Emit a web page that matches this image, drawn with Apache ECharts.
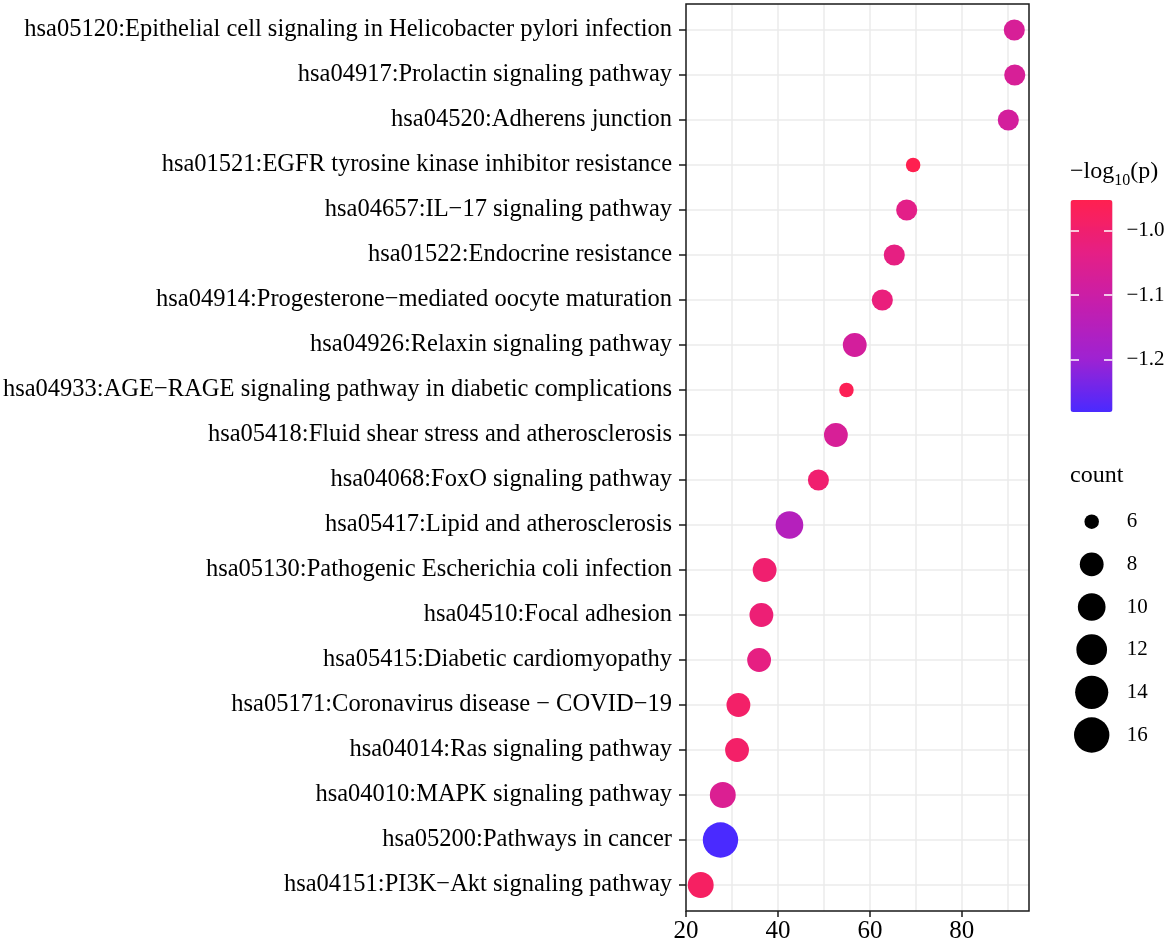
<!DOCTYPE html>
<html>
<head>
<meta charset="utf-8">
<script src="https://cdn.jsdelivr.net/npm/echarts@6/dist/echarts.min.js"></script>
<style>
html,body{margin:0;padding:0;background:#fff;}
#chart{width:1169px;height:945px;}
</style>
</head>
<body>
<div id="chart"></div>
<script>
const categories = [
  'hsa05120:Epithelial cell signaling in Helicobacter pylori infection',
  'hsa04917:Prolactin signaling pathway',
  'hsa04520:Adherens junction',
  'hsa01521:EGFR tyrosine kinase inhibitor resistance',
  'hsa04657:IL\u221217 signaling pathway',
  'hsa01522:Endocrine resistance',
  'hsa04914:Progesterone\u2212mediated oocyte maturation',
  'hsa04926:Relaxin signaling pathway',
  'hsa04933:AGE\u2212RAGE signaling pathway in diabetic complications',
  'hsa05418:Fluid shear stress and atherosclerosis',
  'hsa04068:FoxO signaling pathway',
  'hsa05417:Lipid and atherosclerosis',
  'hsa05130:Pathogenic Escherichia coli infection',
  'hsa04510:Focal adhesion',
  'hsa05415:Diabetic cardiomyopathy',
  'hsa05171:Coronavirus disease \u2212 COVID\u221219',
  'hsa04014:Ras signaling pathway',
  'hsa04010:MAPK signaling pathway',
  'hsa05200:Pathways in cancer',
  'hsa04151:PI3K\u2212Akt signaling pathway'
];
const xValues = [91.4, 91.5, 90.1, 69.4, 68.0, 65.3, 62.7, 56.7, 54.9, 52.6, 48.8, 42.5, 37.1, 36.4, 35.9, 31.4, 31.1, 28.0, 27.5, 23.2];
const logP = [-1.07, -1.07, -1.08, -0.952, -1.04, -1.03, -1.02, -1.08, -0.96, -1.07, -1.00, -1.15, -1.00, -1.01, -1.03, -0.99, -0.99, -1.06, -1.282, -0.98];
const counts = [7, 7, 7, 6, 7, 7, 7, 8, 6, 8, 7, 10, 8, 8, 8, 8, 8, 9, 16, 9];
const xTickValues = [20, 40, 60, 80];
const colorTickValues = [-1.2, -1.1, -1.0];
const sizeBreaks = [6, 8, 10, 12, 14, 16];

const FONT = "'Liberation Serif', 'DejaVu Serif', serif";
const X_MIN = 20, X_MAX = 94.6;
const P_MIN = -1.282, P_MAX = -0.952;

function diameter(c) { return 14.5 + 6.6 * Math.sqrt(Math.max(c - 6, 0)); }
function fmtNeg(v) { return (v < 0 ? '\u2212' : '') + Math.abs(v).toFixed(1); }

const mainData = categories.map((c, i) => [xValues[i], c, logP[i], counts[i]]);
const legendData = sizeBreaks.map(b => [0, String(b), b]);

const whiteTick = {show: true, length: 8.5, customValues: colorTickValues, lineStyle: {color: '#ffffff', width: 1.5}};

const chart = echarts.init(document.getElementById('chart'), null, {renderer: 'canvas'});
chart.setOption({
  backgroundColor: '#ffffff',
  animation: false,
  textStyle: {fontFamily: FONT},
  title: [
    {
      text: '{a|\u2212log}{b|10}{a|(p)}',
      left: 1070, top: 160, padding: 0,
      textStyle: {
        fontWeight: 'normal',
        rich: {
          a: {fontFamily: FONT, fontSize: 24, fontWeight: 'normal', color: '#000', verticalAlign: 'bottom', padding: [0, 0, 5, 0]},
          b: {fontFamily: FONT, fontSize: 16, fontWeight: 'normal', color: '#000', verticalAlign: 'bottom', padding: [0, 0, 0, 0]}
        }
      }
    },
    {
      text: 'count', left: 1070, top: 464, padding: 0,
      textStyle: {fontFamily: FONT, fontSize: 24, fontWeight: 'normal', color: '#000'}
    }
  ],
  grid: [
    {left: 686, right: 140, top: 4, bottom: 34, show: true, z: 5, backgroundColor: 'transparent', borderColor: '#1a1a1a', borderWidth: 1.5, containLabel: false, outerBoundsMode: 'none'},
    {left: 686, right: 140, top: 30, bottom: 60, show: false, containLabel: false, outerBoundsMode: 'none'},
    {left: 1070.5, top: 200, width: 42, height: 212, show: false, containLabel: false, outerBoundsMode: 'none'},
    {left: 1081.7, top: 521.7, width: 20, height: 213.3, show: false, containLabel: false, outerBoundsMode: 'none'}
  ],
  xAxis: [
    {
      type: 'value', gridIndex: 0, min: X_MIN, max: X_MAX, interval: 10,
      axisLine: {show: false}, axisTick: {show: false},
      splitLine: {show: true, showMinLine: false, showMaxLine: false, lineStyle: {color: '#ebebeb', width: 1.5}},
      axisLabel: {
        fontFamily: FONT, fontSize: 25, color: '#000', margin: 8,
        formatter: v => (xTickValues.indexOf(v) >= 0 ? String(v) : '')
      }
    },
    {
      type: 'value', gridIndex: 0, min: X_MIN, max: X_MAX, interval: 20, position: 'bottom',
      axisLine: {show: false},
      axisTick: {show: true, length: 6, customValues: xTickValues, lineStyle: {color: '#1a1a1a', width: 1.5}},
      axisLabel: {show: false}, splitLine: {show: false}
    },
    {type: 'value', gridIndex: 1, min: X_MIN, max: X_MAX, show: false},
    {type: 'value', gridIndex: 2, min: 0, max: 1, show: false},
    {type: 'value', gridIndex: 3, min: -1, max: 1, show: false}
  ],
  yAxis: [
    {type: 'value', gridIndex: 0, show: false, min: 0, max: 1},
    {
      type: 'category', gridIndex: 1, data: categories, inverse: true, boundaryGap: false,
      axisLine: {show: false},
      axisTick: {show: true, length: 7, lineStyle: {color: '#1a1a1a', width: 1.5}},
      splitLine: {show: true, lineStyle: {color: '#ebebeb', width: 1.5}},
      axisLabel: {fontFamily: FONT, fontSize: 24.5, color: '#000', margin: 14, interval: 0}
    },
    {
      type: 'value', gridIndex: 2, position: 'right', min: P_MIN, max: P_MAX, z: 20,
      axisLine: {show: false},
      axisTick: {show: false, customValues: colorTickValues},
      axisLabel: {show: true, customValues: colorTickValues, fontFamily: FONT, fontSize: 21, color: '#000', margin: 14, formatter: v => fmtNeg(v)},
      splitLine: {show: false}
    },
    {
      type: 'value', gridIndex: 2, position: 'left', min: P_MIN, max: P_MAX, z: 20,
      axisLine: {show: false},
      axisTick: Object.assign({inside: true}, whiteTick),
      axisLabel: {show: false}, splitLine: {show: false}
    },
    {
      type: 'category', gridIndex: 3, position: 'right', data: sizeBreaks.map(String), inverse: true, boundaryGap: false,
      axisLine: {show: false}, axisTick: {show: false}, splitLine: {show: false},
      axisLabel: {fontFamily: FONT, fontSize: 21, color: '#000', margin: 25, interval: 0}
    },
    {
      type: 'value', gridIndex: 2, position: 'left', offset: -42, min: P_MIN, max: P_MAX, z: 20,
      axisLine: {show: false},
      axisTick: Object.assign({inside: false}, whiteTick),
      axisLabel: {show: false}, splitLine: {show: false}
    }
  ],
  visualMap: [{
    type: 'continuous', seriesIndex: 0, dimension: 2, z: 2,
    min: P_MIN, max: P_MAX, calculable: false, realtime: false, hoverLink: false,
    orient: 'vertical', left: 1070.5, top: 200, itemWidth: 42, itemHeight: 212, padding: 0,
    text: null, showLabel: false,
    inRange: {color: ['#4a2aff', '#9e22d2', '#c41eae', '#e51f85', '#ff2050']}
  }],
  series: [
    {
      type: 'scatter', xAxisIndex: 2, yAxisIndex: 1, data: mainData,
      symbol: 'circle', symbolSize: v => diameter(v[3]),
      itemStyle: {opacity: 1}, z: 3
    },
    {
      type: 'scatter', xAxisIndex: 4, yAxisIndex: 4, data: legendData,
      symbol: 'circle', symbolSize: v => diameter(v[2]),
      itemStyle: {color: '#000', opacity: 1}
    }
  ]
});
</script>
</body>
</html>
